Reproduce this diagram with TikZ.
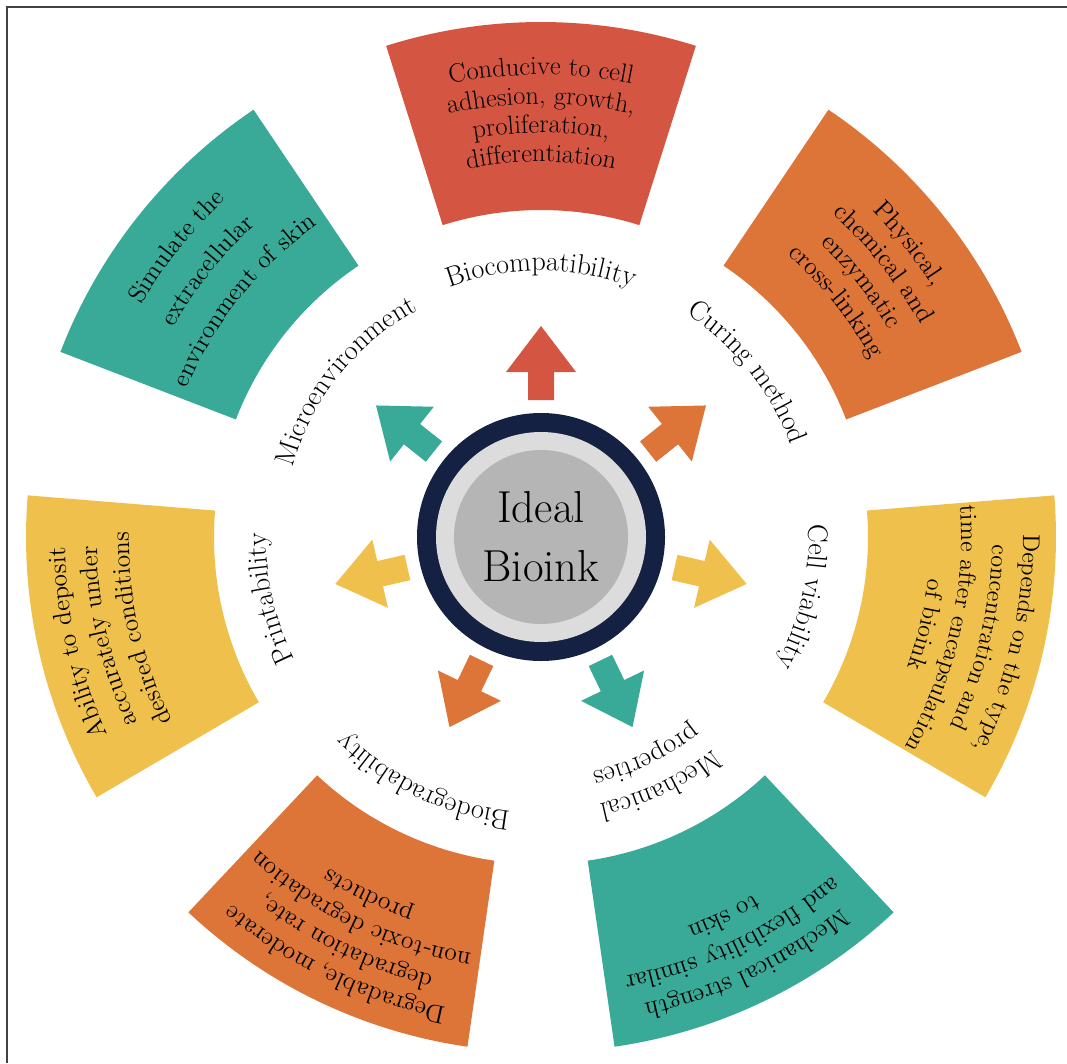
\documentclass[tikz,border=0pt]{standalone}
\usepackage{tikz}
\usepackage{xcolor}
\usetikzlibrary{decorations.text}

\definecolor{bioRed}{RGB}{212,86,66}
\definecolor{bioOrange}{RGB}{221,116,56}
\definecolor{bioYellow}{RGB}{240,192,77}
\definecolor{bioTeal}{RGB}{58,170,152}
\definecolor{bioNavy}{RGB}{21,33,66}
\definecolor{ringGrey}{RGB}{220,220,220}
\definecolor{coreGrey}{RGB}{181,181,181}
\definecolor{frameGrey}{RGB}{65,65,65}

% annular block: #1 = middle angle, #2 = colour
\newcommand{\inksector}[2]{%
  \fill[#2] (#1-17.5:327) arc[start angle=#1-17.5, end angle=#1+17.5, radius=327]
    -- (#1+17.5:515) arc[start angle=#1+17.5, end angle=#1-17.5, radius=515] -- cycle;}

% fat arrow pointing away from the centre
\newcommand{\inkarrow}[2]{%
  \fill[#2, rotate=#1] (137,-13) -- (165,-13) -- (165,-35) -- (211,0)
    -- (165,35) -- (165,13) -- (137,13) -- cycle;}

% one line of text bent round the centre, running clockwise
\newcommand{\curvetext}[4]{%
  \path[decorate, decoration={text along path, text align=center,
      text={|\fontsize{#3}{#3}\selectfont|#4}}]
    (#1+70:#2) arc[start angle=#1+70, end angle=#1-70, radius=#2];}

\begin{document}
\begin{tikzpicture}[x=0.02cm, y=0.02cm,
        frame/.style={line width=1.2pt, frameGrey},
        core/.style={align=center, font=\fontsize{25.5}{33.5}\selectfont}]

	\useasboundingbox (0,0) rectangle (1067,1063);
	\draw [frame] (7,0) -- (7,1056) -- (1067,1056);

\begin{scope}[shift={(541,526)}]
	% outer blocks
	\inksector{90}{bioRed}
	\inksector{38.57}{bioOrange}
	\inksector{-12.86}{bioYellow}
	\inksector{-64.29}{bioTeal}
	\inksector{-115.71}{bioOrange}
	\inksector{192.86}{bioYellow}
	\inksector{141.43}{bioTeal}

	% arrows
	\inkarrow{90}{bioRed}
	\inkarrow{38.57}{bioOrange}
	\inkarrow{-12.86}{bioYellow}
	\inkarrow{-64.29}{bioTeal}
	\inkarrow{-115.71}{bioOrange}
	\inkarrow{192.86}{bioYellow}
	\inkarrow{141.43}{bioTeal}

	% centre
	\fill [bioNavy] (0,0) circle [radius=124];
	\fill [ringGrey] (0,0) circle [radius=105];
	\fill [coreGrey] (0,0) circle [radius=87];
	\node [core] (bioink) at (0,0) {Ideal\\Bioink};

	% property names
	\curvetext{90}{266}{16}{Biocompatibility}
	\curvetext{38.57}{266}{16}{Curing method}
	\curvetext{-12.86}{268}{16}{Cell viability}
	\curvetext{-64.29}{273}{16}{Mechanical}
	\curvetext{-64.29}{240}{16}{properties}
	\curvetext{-115.71}{276}{16}{Biodegradability}
	\curvetext{192.86}{275}{16}{Printability}
	\curvetext{141.43}{258}{16}{Microenvironment}

	% block texts
	\curvetext{90}{462}{15}{Conducive to cell}
	\curvetext{90}{433}{15}{adhesion, growth,}
	\curvetext{90}{404}{15}{proliferation,}
	\curvetext{90}{375}{15}{differentiation}

	\curvetext{38.57}{465}{14.5}{Physical,}
	\curvetext{38.57}{435}{14.5}{chemical and}
	\curvetext{38.57}{405}{14.5}{enzymatic}
	\curvetext{38.57}{375}{14.5}{cross-linking}

	\curvetext{-12.86}{482}{13.8}{Depends on the type,}
	\curvetext{-12.86}{451}{13.8}{concentration and}
	\curvetext{-12.86}{420}{13.8}{time after encapsulation}
	\curvetext{-12.86}{389}{13.8}{of bioink}

	\curvetext{-64.29}{478}{14.5}{Mechanical strength}
	\curvetext{-64.29}{447}{14.5}{and flexibility similar}
	\curvetext{-64.29}{416}{14.5}{to skin}

	\curvetext{-115.71}{480}{14.5}{Degradable, moderate}
	\curvetext{-115.71}{451}{14.5}{degradation rate,}
	\curvetext{-115.71}{422}{14.5}{non-toxic degradation}
	\curvetext{-115.71}{393}{14.5}{products}

	\curvetext{192.86}{476}{14.5}{Ability to deposit}
	\curvetext{192.86}{444}{14.5}{accurately under}
	\curvetext{192.86}{412}{14.5}{desired conditions}

	\curvetext{141.43}{462}{14.2}{Simulate the}
	\curvetext{141.43}{423}{14.2}{extracellular}
	\curvetext{141.43}{384}{14.2}{environment of skin}
\end{scope}
\end{tikzpicture}
\end{document}
